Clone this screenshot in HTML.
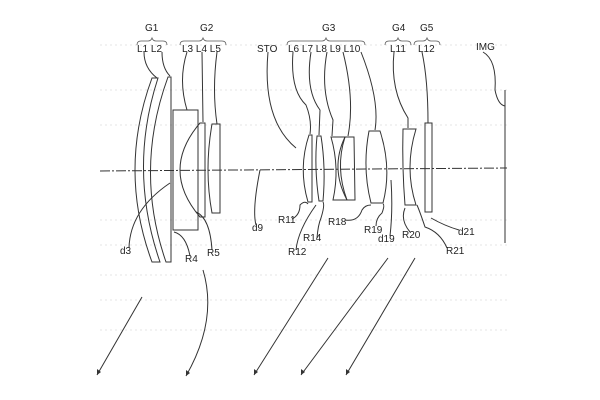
<!DOCTYPE html>
<html><head><meta charset="utf-8"><style>
html,body{margin:0;padding:0;background:#fff;}
svg{display:block}
text{font-family:"Liberation Sans Narrow","Liberation Sans",sans-serif;font-size:10px;fill:#222;}
</style></head><body>
<svg width="600" height="400" viewBox="0 0 600 400" xmlns="http://www.w3.org/2000/svg">
<g stroke="#e4e4e4" stroke-width="1" stroke-dasharray="2,3">
<line x1="100" y1="45" x2="510" y2="45"/><line x1="100" y1="90" x2="510" y2="90"/>
<line x1="100" y1="125" x2="510" y2="125"/><line x1="100" y1="220" x2="510" y2="220"/>
<line x1="100" y1="245" x2="510" y2="245"/><line x1="100" y1="275" x2="510" y2="275"/>
<line x1="100" y1="300" x2="510" y2="300"/><line x1="100" y1="330" x2="510" y2="330"/>
</g>
<g fill="none" stroke="#333" stroke-width="1">
<line x1="100" y1="171" x2="507" y2="168" stroke-dasharray="10,2,2,2"/>
<!-- L1 -->
<path d="M152,78 L158,78 Q128,170 160,262 L152,262 Q118,170 152,78Z"/>
<!-- L2 -->
<path d="M168,77 L171,77 L171,262 L166,262 Q134,170 168,77Z"/>
<!-- L3 -->
<rect x="173" y="110" width="25" height="120"/>
<!-- L4 -->
<path d="M200,123 L205,123 L205,217 L200,217 Q160,170 200,123Z"/>
<!-- L5 -->
<path d="M212,124 L220,124 L220,213 L212,213 Q204,170 212,124Z"/>
<!-- G3 -->
<path d="M309,135 L312,135 L312,202 L308,202 Q298,168 309,135Z"/>
<path d="M317,136 L321,136 Q326,168 323,201 L319,201 Q314,168 317,136Z"/>
<path d="M331,137 L345,137 Q335,168 347,200 L333,200 Q340,168 331,137Z"/>
<path d="M345,137 L354,137 L355,200 L347,200 Q330,168 345,137Z"/>
<path d="M369,131 L380,131 Q392,168 383,203 L371,203 Q362,168 369,131Z"/>
<path d="M403,129 L416,129 Q404,168 416,205 L405,205 Q402,168 403,129Z"/>
<rect x="425" y="123" width="7" height="89"/>
<line x1="505" y1="90" x2="505" y2="243"/>
<!-- leaders -->
<path d="M144,52 Q144,68 157,78 M162,52 Q162,68 170,76"/>
<path d="M187,52 Q178,80 187,110 M202,52 L203,122 M217,52 Q212,90 217,124"/>
<path d="M268,52 Q262,120 296,148"/>
<path d="M293,52 Q290,90 306,105 Q312,120 310,134 M311,52 Q305,90 320,110 L319,135 M327,52 Q320,90 333,120 L332,136 M343,52 Q355,100 348,136 M361,52 Q380,100 375,130"/>
<path d="M394,52 Q390,90 408,118 L408,128 M422,52 Q428,80 428,123 M483,52 Q497,60 495,90 Q498,105 505,106"/>
<path d="M129,248 Q130,210 170,183 M190,256 Q186,235 174,232 M212,250 Q210,218 196,212"/>
<path d="M256,225 Q252,210 260,170 M292,219 Q300,215 300,205 Q305,200 308,204 M296,250 Q298,230 316,205 M317,238 Q318,225 321,218 Q325,205 323,202 M345,220 Q358,222 362,210 Q365,205 371,205 M376,226 Q376,218 382,213 Q385,205 383,204 M390,236 Q393,210 391,180 M410,232 Q400,220 405,208 M447,248 Q440,232 425,227 Q420,212 417,205 M459,230 Q445,226 431,218"/>
<!-- arrows -->
<path d="M142,297 L97,375 M203,270 Q218,320 186,376 M328,258 L254,375 M388,258 L301,375 M415,258 L346,375"/>
</g>
<g fill="#333">
<path d="M97,375 l0,-6 l4,3z"/><path d="M186,376 l0,-6 l4,3z"/><path d="M254,375 l0,-6 l4,3z"/><path d="M301,375 l0,-6 l4,3z"/><path d="M346,375 l0,-6 l4,3z"/>
</g>
<g fill="none" stroke="#555" stroke-width="0.8">
<path d="M137,45 q0,-4 4,-4 h7 q3,0 4,-3 q1,3 4,3 h7 q4,0 4,4"/>
<path d="M180,45 q0,-4 4,-4 h15 q3,0 4,-3 q1,3 4,3 h15 q4,0 4,4"/>
<path d="M287,45 q0,-4 4,-4 h31 q3,0 4,-3 q1,3 4,3 h31 q4,0 4,4"/>
<path d="M385,45 q0,-4 4,-4 h5 q3,0 4,-3 q1,3 4,3 h5 q4,0 4,4"/>
<path d="M414,45 q0,-4 4,-4 h5 q3,0 4,-3 q1,3 4,3 h5 q4,0 4,4"/>
</g>
<text x="145" y="31">G1</text><text x="200" y="31">G2</text><text x="322" y="31">G3</text><text x="392" y="31">G4</text><text x="420" y="31">G5</text>
<text x="137" y="52">L1 L2</text><text x="182" y="52">L3 L4 L5</text><text x="257" y="52">STO</text>
<text x="288" y="52">L6 L7 L8 L9 L10</text><text x="390" y="52">L11</text><text x="418" y="52">L12</text><text x="476" y="50">IMG</text>
<text x="120" y="254">d3</text><text x="185" y="262">R4</text><text x="207" y="256">R5</text><text x="252" y="231">d9</text>
<text x="278" y="223">R11</text><text x="288" y="255">R12</text><text x="303" y="241">R14</text><text x="328" y="225">R18</text>
<text x="364" y="233">R19</text><text x="378" y="242">d19</text><text x="402" y="238">R20</text><text x="446" y="254">R21</text><text x="458" y="235">d21</text>
</svg>
</body></html>
